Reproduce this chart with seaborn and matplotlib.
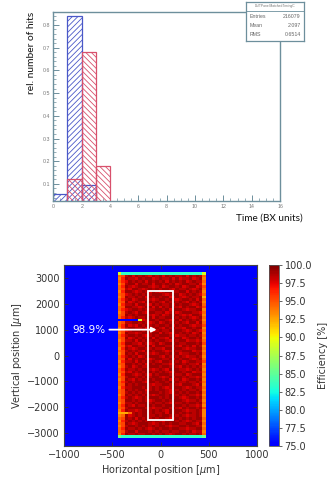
import numpy as np
import pandas as pd
import matplotlib
matplotlib.use("Agg")
import matplotlib.pyplot as plt
import seaborn as sns
from matplotlib.colors import ListedColormap
from matplotlib.patches import Rectangle
from matplotlib.ticker import MultipleLocator

# ---------------- data: timing histogram ----------------
time_edges = list(range(0, 17))            # BX bin edges
blue_hist = [0.055, 0.84, 0.095, 0, 0, 0, 0, 0, 0, 0, 0, 0, 0, 0, 0, 0]
red_hist = [0.0, 0.12, 0.68, 0.18, 0, 0, 0, 0, 0, 0, 0, 0, 0, 0, 0, 0]
time_ticks = [0, 2, 4, 6, 8, 10, 12, 14, 16]
hits_ticks = [0.1, 0.2, 0.3, 0.4, 0.5, 0.6, 0.7, 0.8]
stats_title = "DUTPanelMatchedTimingC"
stats_labels = ["Entries", "Mean", "RMS"]
stats_values = ["216079", "2.097", "0.6514"]

# ---------------- data: efficiency map ----------------
# one character per cell, rows from top (y high) to bottom; see eff_levels
eff_levels = {"A": 75.0, "B": 80.0, "C": 83.5, "D": 85.5, "E": 89.0,
              "2": 92.3, "3": 93.5, "4": 94.5, "5": 95.5, "6": 96.5,
              "7": 97.6, "8": 98.5, "9": 99.3}
eff_rows = [
    "EC CCCCC CCCCC CCCCC CCCCC CCC E",
    "45 89798 98798 97989 88979 898 4",
    "36 98879 89978 98897 97889 789 3",
    "46 79898 97989 89798 98978 988 4",
    "35 89979 88979 98989 78998 897 3",
    "46 98789 99878 97899 89789 978 5",
    "45 87998 78989 89987 98898 789 4",
    "36 99878 98798 78998 89979 898 3",
    "45 78989 89899 98789 97898 987 4",
    "35 98898 97989 89978 98789 889 2",
    "46 89789 98878 99898 78998 979 4",
    "45 97898 79989 87989 89879 898 3",
    "36 88979 98798 98897 98998 789 4",
    "45 99887 89979 79898 87989 978 5",
    "46 78998 98889 98979 99878 899 3",
    "35 89879 87998 89789 78999 887 4",
    "45 98989 99878 97898 98787 998 3",
    "46 87898 89979 88999 89898 789 4",
    "AA AAAAE 78998 99878 97989 898 3",
    "45 88998 98789 78989 89879 979 4",
    "46 97879 89898 99897 98998 788 5",
    "36 89988 97989 87989 88799 899 3",
    "45 78999 89878 98898 99878 987 4",
    "35 98878 99899 79878 98989 789 3",
    "46 89989 87898 99989 78898 898 4",
    "45 97898 98979 88798 99789 989 3",
    "35 88979 89898 99879 89978 878 4",
    "46 99887 98789 78998 98899 989 5",
    "45 87998 89979 99889 87989 798 3",
    "36 98789 98898 87998 99878 899 4",
    "45 89898 79989 98789 88999 788 3",
    "35 98979 98878 99898 97889 989 4",
    "46 89897 89999 87989 89878 898 3",
    "45 97989 98789 98897 98998 789 4",
    "36 88979 89898 79989 89789 988 5",
    "45 99898 97989 98878 99898 879 3",
    "35 89789 88999 89989 87989 898 4",
    "46 98898 99878 98799 98878 989 3",
    "45 87989 89989 89878 99899 788 4",
    "36 99878 98798 99989 88978 999 3",
    "45 89989 89899 87898 99898 878 4",
    "35 98798 98989 98979 89789 989 3",
    "46 89899 87998 99898 98898 898 4",
    "45 98989 99878 89989 87999 879 3",
    "36 88999 89898 98789 99878 988 4",
    "45 98989 97898 99879 89898 898 3",
    "45 89898 98999 89878 98989 989 4",
    "35 98989 89878 99898 89898 878 3",
    "46 89878 98999 89898 98789 989 4",
    "45 99898 98789 98989 99878 898 3",
    "35 88989 99898 89879 88989 989 4",
    "46 98798 89989 98998 99898 878 3",
    "45 89999 98878 89989 87989 989 5",
    "36 98878 99898 98798 99878 898 3",
    "22 24898 99898 89798 98989 898 3",
    "34 97898 99889 89989 89878 898 3",
    "45 98979 89898 99878 98989 899 4",
    "36 89898 98989 87999 89878 988 3",
    "45 98789 99878 98989 98899 879 4",
    "35 89989 89898 99878 89989 988 3",
    "46 98898 98789 89989 98878 899 4",
    "45 89979 99898 98898 89989 788 3",
    "36 98898 89989 89878 99898 898 4",
    "DC CCCCC CCCCC CCCCC CCCCC CCC D",
]
sensor_x = (-440, 470)
sensor_y = (-3180, 3220)
fiducial_x = (-125, 125)
fiducial_y = (-2500, 2500)
eff_label = "98.9%"
eff_ticks = [75.0, 77.5, 80.0, 82.5, 85.0, 87.5, 90.0, 92.5, 95.0, 97.5, 100.0]
hpos_ticks = [-1000, -500, 0, 500, 1000]
vpos_ticks = [-3000, -2000, -1000, 0, 1000, 2000, 3000]

# ---------------- figure ----------------
sns.set_style("ticks")
plt.rcParams["font.family"] = ["DejaVu Sans"]
plt.rcParams["hatch.linewidth"] = 0.6

fig = plt.figure(figsize=(3.32, 4.83), dpi=100)
fig.patch.set_facecolor("white")

# ---- top: timing histogram (ROOT look) ----
frame_col = "#6d8f9c"
blue_col = "#4a58c8"
red_col = "#d8506c"
ax1 = fig.add_axes([0.1606, 0.5839, 0.6828, 0.3913])
centers = [e + 0.5 for e in time_edges[:-1]]

sns.histplot(x=centers, weights=blue_hist, bins=time_edges, element="bars",
             fill=True, ax=ax1, color=blue_col, shrink=1.0)
n_blue = len(ax1.patches)
sns.histplot(x=centers, weights=red_hist, bins=time_edges, element="bars",
             fill=True, ax=ax1, color=red_col, shrink=1.0)
for i, p in enumerate(ax1.patches):
    col = blue_col if i < n_blue else red_col
    p.set_facecolor("none")
    p.set_edgecolor(col)
    p.set_linewidth(0.9)
    p.set_alpha(1.0)
    p.set_hatch("//////" if i < n_blue else "\\\\\\\\\\\\")

ax1.set_xlim(0, 16)
ax1.set_ylim(0.025, 0.857)
ax1.set_xlabel("")
ax1.set_ylabel("")
ax1.set_xticks(time_ticks)
ax1.set_yticks(hits_ticks)
ax1.set_yticklabels([f"{v:.1f}" for v in hits_ticks])
ax1.xaxis.set_minor_locator(MultipleLocator(0.5))
ax1.yaxis.set_minor_locator(MultipleLocator(0.02))
for s in ax1.spines.values():
    s.set_visible(True)
    s.set_color(frame_col)
    s.set_linewidth(1.0)
ax1.tick_params(which="major", direction="in", length=4, width=0.7,
                color=frame_col, labelsize=3.8, labelcolor="#777777", pad=2,
                labelfontfamily="Liberation Sans")
ax1.tick_params(which="minor", direction="in", length=2, width=0.5, color=frame_col)

fig.text(32 / 332, (483 - 12) / 483, "rel. number of hits", rotation=90,
         ha="center", va="top", fontsize=7.4, family=["Lato", "DejaVu Sans"],
         color="#111111")
fig.text(303 / 332, (483 - 218) / 483, "Time (BX units)", ha="right",
         va="center", fontsize=7.2, family=["Lato", "DejaVu Sans"], color="#111111")

# stats box
sb = fig.add_axes([246 / 332, (483 - 41) / 483, 58 / 332, 39 / 483])
sb.set_xlim(0, 1)
sb.set_ylim(0, 1)
sb.set_xticks([])
sb.set_yticks([])
sb.set_facecolor("white")
for s in sb.spines.values():
    s.set_color(frame_col)
    s.set_linewidth(0.9)
sb.axhline(0.78, color=frame_col, lw=0.6)
sb.text(0.5, 0.89, stats_title, ha="center", va="center", fontsize=2.4,
        color="#777777", family="Liberation Sans")
for k, (lab, val) in enumerate(zip(stats_labels, stats_values)):
    yy = 0.64 - k * 0.24
    sb.text(0.07, yy, lab, ha="left", va="center", fontsize=3.8,
            color="#666666", family="Liberation Sans")
    sb.text(0.94, yy, val, ha="right", va="center", fontsize=3.8,
            color="#666666", family="Liberation Sans")

# ---- bottom: efficiency map ----
cmap = ListedColormap(plt.cm.jet(np.linspace(0.11, 1.0, 256)))
rows_clean = [r.replace(" ", "") for r in eff_rows]
ncol = len(rows_clean[0])
for r in rows_clean:
    assert len(r) == ncol, (r, len(r))
Z = np.array([[eff_levels[c] for c in r] for r in rows_clean])[::-1]
x_edges = np.linspace(sensor_x[0], sensor_x[1], Z.shape[1] + 1)
y_edges = np.linspace(sensor_y[0], sensor_y[1], Z.shape[0] + 1)

ax2 = fig.add_axes([0.1928, 0.0766, 0.5813, 0.3747])
ax2.set_facecolor(cmap(0.0))
mesh = ax2.pcolormesh(x_edges, y_edges, Z, cmap=cmap, vmin=75, vmax=100)
ax2.set_xlim(-1000, 1000)
ax2.set_ylim(-3500, 3500)
ax2.add_patch(Rectangle((fiducial_x[0], fiducial_y[0]),
                        fiducial_x[1] - fiducial_x[0], fiducial_y[1] - fiducial_y[0],
                        fill=False, edgecolor="white", lw=1.3))
ax2.annotate("", xy=(-40, 1000), xytext=(-530, 1000),
             arrowprops=dict(arrowstyle="-|>", color="white", lw=1.3,
                             mutation_scale=7, shrinkA=0, shrinkB=0))
ax2.text(-745, 1000, eff_label, color="white", fontsize=7.5, ha="center",
         va="center")
ax2.set_xticks(hpos_ticks)
ax2.set_yticks(vpos_ticks)
ax2.tick_params(direction="in", top=True, right=True, length=3, width=0.6,
                labelsize=7, labelcolor="#333333", color="#333333", pad=3)
for s in ax2.spines.values():
    s.set_color("#444444")
    s.set_linewidth(0.8)
ax2.set_xlabel(r"Horizontal position [$\mu$m]", fontsize=7, color="#333333",
               labelpad=2)
ax2.set_ylabel(r"Vertical position [$\mu$m]", fontsize=7, color="#333333",
               labelpad=2)

cax = fig.add_axes([269 / 332, 0.0766, 10 / 332, 0.3747])
cb = fig.colorbar(mesh, cax=cax, ticks=eff_ticks)
cb.ax.set_yticklabels([f"{t:.1f}" for t in eff_ticks])
cb.ax.tick_params(labelsize=7, labelcolor="#333333", length=2, width=0.5, pad=2)
cb.outline.set_edgecolor("#555555")
cb.outline.set_linewidth(0.6)
cb.set_label("Efficiency [%]", fontsize=7, color="#333333", labelpad=4)

fig.savefig("out.png", dpi=100)
